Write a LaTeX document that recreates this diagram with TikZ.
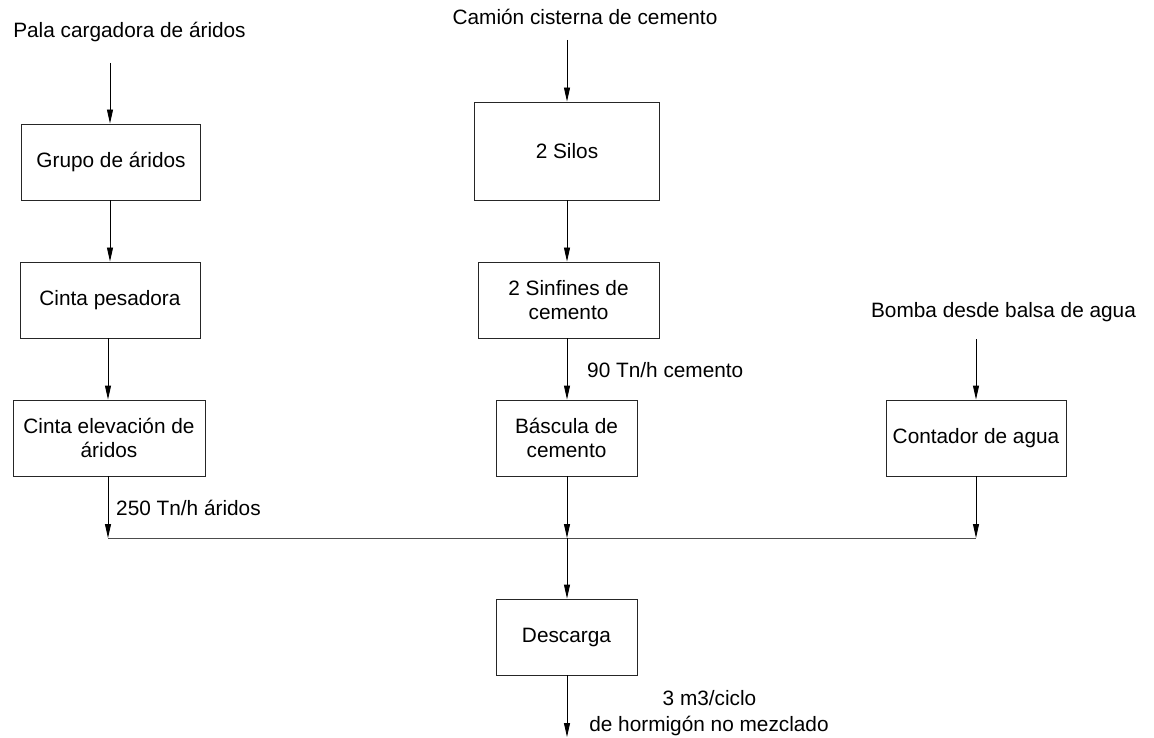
\documentclass[tikz,border=0pt]{standalone}
\usepackage{fontspec}
\setmainfont{Liberation Sans}
\usetikzlibrary{arrows.meta}
\tikzset{
  box/.style={draw=black!85, line width=0.9pt, rectangle, inner sep=0pt, align=center,
    font=\fontsize{20.8}{23.5}\selectfont},
  lbl/.style={inner sep=0pt, font=\fontsize{20.8}{23.5}\selectfont},
  flow/.style={draw=black, line width=0.9pt, -{Triangle[length=14pt,width=6pt]}},
  bus/.style={draw=black!70, line width=1pt}
}
\begin{document}
\begin{tikzpicture}[x=1pt,y=-1pt]
\useasboundingbox (0,0) rectangle (1154,738);
% left column
\node[lbl, anchor=base] (pala) at (129.5,38) {Pala cargadora de áridos};
\node[box, minimum width=179pt, minimum height=76pt] (g) at (111,162) {Grupo de áridos};
\node[box, minimum width=180pt, minimum height=76pt] (cp) at (110,300) {Cinta pesadora};
\node[box, minimum width=192pt, minimum height=76pt] (ce) at (109,438) {Cinta elevación de\\áridos};
\node[lbl, anchor=base west] (l250) at (116,515) {250 Tn/h áridos};
% center column
\node[lbl, anchor=base] (cam) at (585,25) {Camión cisterna de cemento};
\node[box, minimum width=185pt, minimum height=98pt] (silos) at (567,151) {2 Silos};
\node[box, minimum width=181pt, minimum height=76pt] (sinf) at (568.5,300) {2 Sinfines de\\cemento};
\node[lbl, anchor=base west] (l90) at (587,377) {90 Tn/h cemento};
\node[box, minimum width=141pt, minimum height=76pt] (bas) at (566.5,438) {Báscula de\\cemento};
\node[box, minimum width=141pt, minimum height=76pt] (desc) at (566.5,637) {Descarga};
\node[lbl, anchor=base] (l3) at (709.5,705) {3 m3/ciclo};
\node[lbl, anchor=base] (lhorm) at (709,731) {de hormigón no mezclado};
% right column
\node[lbl, anchor=base] (bomba) at (1003.5,317) {Bomba desde balsa de agua};
\node[box, minimum width=180pt, minimum height=76pt] (cont) at (976,438) {Contador de agua};
% free ends
\coordinate (pin) at (110,63);
\coordinate (cin) at (567,40);
\coordinate (bin) at (976,339);
\coordinate (busL) at (108,538);
\coordinate (busC) at (567,538);
\coordinate (busR) at (976,538);
\coordinate (out) at (567,737);
% connectors
\draw[flow] (pin) -- (pin |- g.north);
\draw[flow] (pin |- g.south) -- (pin |- cp.north);
\draw[flow] (108,0 |- cp.south) -- (108,0 |- ce.north);
\draw[flow] (busL |- ce.south) -- (busL);
\draw[flow] (cin) -- (cin |- silos.north);
\draw[flow] (cin |- silos.south) -- (cin |- sinf.north);
\draw[flow] (cin |- sinf.south) -- (cin |- bas.north);
\draw[flow] (busC |- bas.south) -- (busC);
\draw[flow] (bin) -- (bin |- cont.north);
\draw[flow] (busR |- cont.south) -- (busR);
\draw[bus] (busL) -- (busR);
\draw[flow] (busC) -- (busC |- desc.north);
\draw[flow] (busC |- desc.south) -- (out);
\end{tikzpicture}
\end{document}
